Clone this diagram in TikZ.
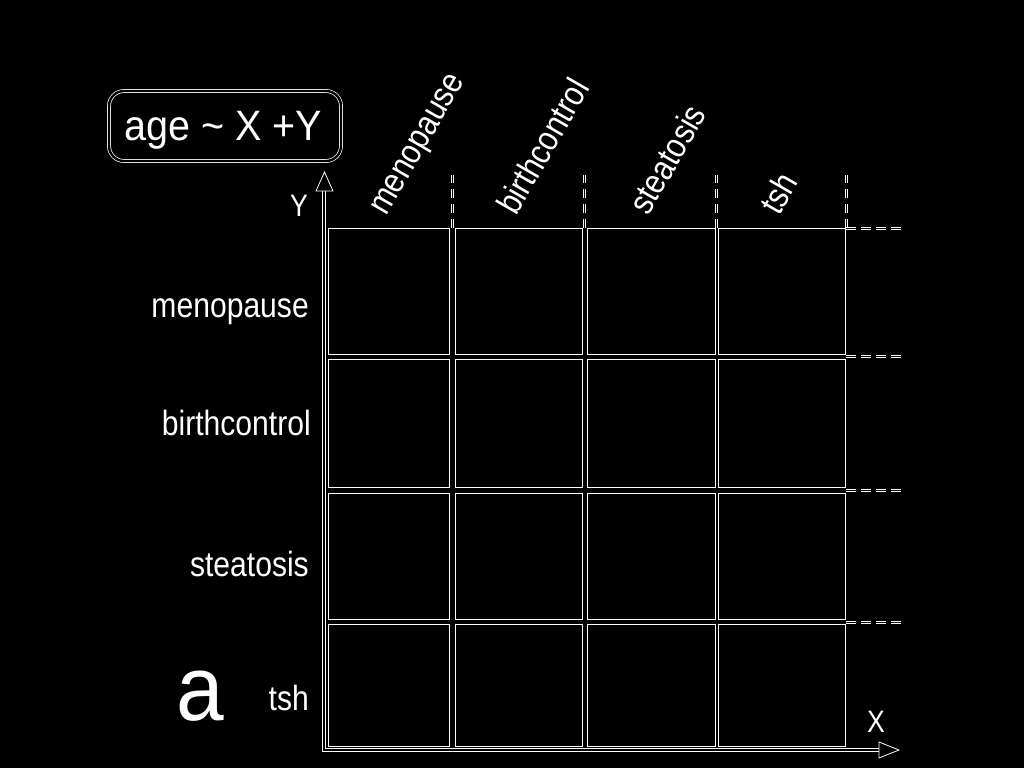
\documentclass[tikz,border=0pt]{standalone}
\usepackage{fontspec}
\newfontfamily\lab[FakeStretch=0.86]{Liberation Sans}
\newfontfamily\ttl[FakeStretch=0.93]{Liberation Sans}
\begin{document}
\begin{tikzpicture}[x=1pt,y=-1pt,
  dbl/.style={draw=white, line width=0.7pt, double=black, double distance=2.4pt},
  cellbox/.style={draw=white, line width=0.8pt},
  dsh/.style={draw=white, line width=0.9pt, double=black, double distance=1.4pt},
  tip/.style={draw=white, line width=0.8pt, fill=black},
  rowlab/.style={text=white, anchor=base east, inner sep=0pt, font=\lab\fontsize{35}{40}\selectfont},
  collab/.style={text=white, anchor=base west, inner sep=0pt, rotate=60, font=\lab\fontsize{35}{40}\selectfont},
  axlab/.style={text=white, inner sep=0pt, font=\lab\fontsize{31}{36}\selectfont}
]
\fill[black] (0,0) rectangle (1024,768);
\useasboundingbox (0,0) rectangle (1024,768);

% title box
\node[draw=white, line width=0.7pt, double=black, double distance=2.4pt, rounded corners=15pt,
  minimum width=232pt, minimum height=70pt, inner sep=0pt] (title) at (225,126) {};
\node[text=white, anchor=base west, inner sep=0pt, font=\ttl\fontsize{42.5}{46}\selectfont] (titletext) at (124,140) {age \char`\~{} X +Y};

% cells
\foreach \xa/\xb [count=\i] in {328/449, 455/582, 587/715, 718/845}{
  \foreach \ya/\yb [count=\j] in {228/354, 359/487, 493/619, 624/746}{
    \draw[cellbox] (\xa,\ya) rectangle (\xb,\yb);
  }
}

% dashed guides
\foreach \xx in {452.3,584.5,716.3,846.3}{
  \draw[dsh, dash pattern=on 9pt off 6pt] (\xx,228) -- (\xx,175);
}
\foreach \yy in {228.3,356.5,490.3,622.3}{
  \draw[dsh, dash pattern=on 10pt off 5pt] (846,\yy) -- (902,\yy);
}

% axes
\coordinate (ytop) at (324,191);
\coordinate (origin) at (324,750);
\coordinate (xend) at (879,750);
\draw[dbl] (ytop) -- (origin) -- (xend);
\draw[tip] (316,191) -- (324.5,172) -- (333,191) -- cycle;
\draw[tip] (879,742) -- (899,750) -- (879,758) -- cycle;
\node[axlab] (ylab) at (299,206) {Y};
\node[axlab] (xlab) at (876,722) {X};

% row labels
\node[rowlab] (r1) at (309,317) {menopause};
\node[rowlab] (r2) at (311,435) {birthcontrol};
\node[rowlab] (r3) at (309,576) {steatosis};
\node[rowlab] (r4) at (309,710) {tsh};

% column labels
\node[collab] (c1) at (386,217) {menopause};
\node[collab] (c2) at (516,217) {birthcontrol};
\node[collab] (c3) at (648,217) {steatosis};
\node[collab] (c4) at (779,217) {tsh};

% panel letter
\node[text=white, anchor=base west, inner sep=0pt, font=\ttl\fontsize{92}{100}\selectfont] (panel) at (176,720) {a};
\end{tikzpicture}
\end{document}
